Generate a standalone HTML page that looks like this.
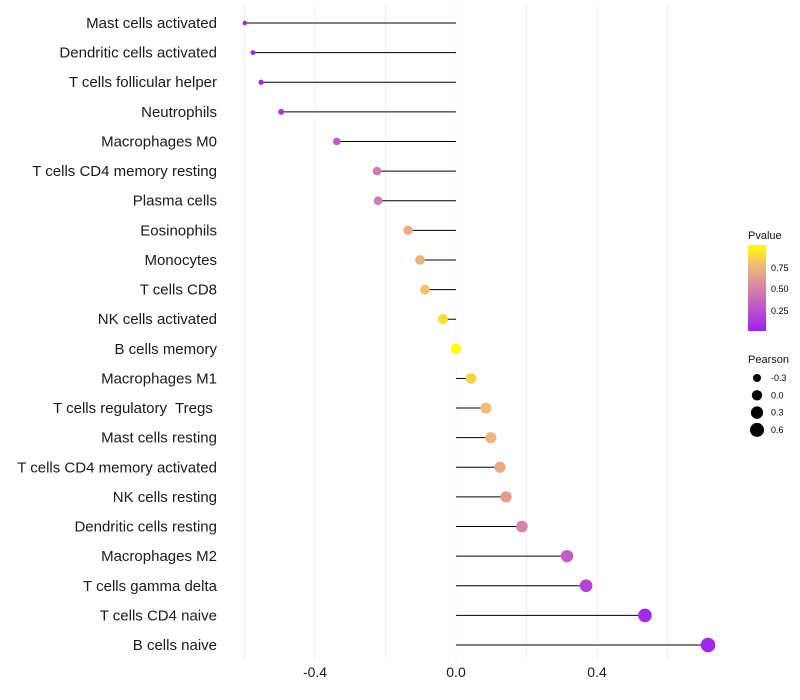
<!DOCTYPE html>
<html><head><meta charset="utf-8"><style>
body{margin:0;background:#fff;font-family:"Liberation Sans",sans-serif;}
</style></head><body>
<svg id="chart" width="800" height="700" xmlns="http://www.w3.org/2000/svg" style="display:block">
<defs><linearGradient id="pg" x1="0" y1="1" x2="0" y2="0">
<stop offset="0" stop-color="#a020f0"/><stop offset="0.5" stop-color="#d684a8"/><stop offset="0.75" stop-color="#f0b878"/><stop offset="1" stop-color="#ffff00"/>
</linearGradient></defs>
<g id="grid"></g>
<g id="marks"></g>
<g id="labels"></g>
<g id="xt"></g>
<g>
<text x="748" y="239" font-size="11" fill="#111">Pvalue</text>
<rect x="748" y="245" width="18" height="86" fill="url(#pg)"/>
<text x="771" y="271" font-size="9">0.75</text>
<text x="771" y="292" font-size="9">0.50</text>
<text x="771" y="314" font-size="9">0.25</text>
</g>
<g id="sleg">
<text x="748" y="363" font-size="11" fill="#111">Pearson</text>
</g>
</svg>
<script>
const categories=["Mast cells activated","Dendritic cells activated","T cells follicular helper","Neutrophils","Macrophages M0","T cells CD4 memory resting","Plasma cells","Eosinophils","Monocytes","T cells CD8","NK cells activated","B cells memory","Macrophages M1","T cells regulatory\u00a0 Tregs\u00a0","Mast cells resting","T cells CD4 memory activated","NK cells resting","Dendritic cells resting","Macrophages M2","T cells gamma delta","T cells CD4 naive","B cells naive"];
const pearson=[-0.599,-0.576,-0.553,-0.496,-0.338,-0.224,-0.221,-0.136,-0.102,-0.088,-0.037,0.0,0.043,0.085,0.099,0.125,0.142,0.187,0.315,0.369,0.536,0.715];
const pvalues=[0.0,0.03,0.04,0.08,0.3,0.45,0.45,0.7,0.72,0.78,0.88,1.0,0.85,0.76,0.73,0.68,0.62,0.5,0.3,0.18,0.05,0.03];
const xTicks=[-0.4,0.0,0.4];
const xTickLabels=["-0.4","0.0","0.4"];
const gridVals=[-0.6,-0.4,-0.2,0,0.2,0.4,0.6];
const legendVals=[-0.3,0.0,0.3,0.6];
const legendLabels=["-0.3","0.0","0.3","0.6"];
const NS="http://www.w3.org/2000/svg";
const X=v=>456+v*352.5;
const Y=i=>23+i*29.62;
const R=v=>Math.sqrt(Math.max(2,27+36.7*v));
function lerp(a,b,t){return a.map((x,i)=>Math.round(x+(b[i]-x)*t));}
function col(p){const s=[[0,[160,32,240]],[0.5,[214,132,168]],[0.75,[240,184,120]],[1,[255,255,0]]];
for(let i=1;i<s.length;i++){if(p<=s[i][0]){const t=(p-s[i-1][0])/(s[i][0]-s[i-1][0]);const c=lerp(s[i-1][1],s[i][1],t);return `rgb(${c})`;}}return "rgb(255,255,0)";}
function mk(t,a,parent){const e=document.createElementNS(NS,t);for(const k in a)e.setAttribute(k,a[k]);parent.appendChild(e);return e;}
const grid=document.getElementById('grid'),marks=document.getElementById('marks'),labels=document.getElementById('labels'),xt=document.getElementById('xt'),sleg=document.getElementById('sleg');
gridVals.forEach(v=>{const l=mk('line',{x1:X(v),x2:X(v),y1:5,y2:660,stroke:'#f0f0f0','stroke-width':1},grid);

});
categories.forEach((c,i)=>{
const t=mk('text',{x:217,y:Y(i)+5,'text-anchor':'end','font-size':15,fill:'#1a1a1a'},labels);t.textContent=c;


const l=mk('line',{x1:X(0),x2:X(pearson[i]),y1:Y(i),y2:Y(i),stroke:'#000','stroke-width':1},marks);


const p=mk('circle',{cx:X(pearson[i]),cy:Y(i),r:R(pearson[i]),fill:col(pvalues[i])},marks);


});
xTicks.forEach((v,i)=>{const t=mk('text',{x:X(v),y:677,'text-anchor':'middle','font-size':14,fill:'#1a1a1a'},xt);t.textContent=xTickLabels[i];

});
legendVals.forEach((v,i)=>{const y=378+i*17.3;
const c=mk('circle',{cx:757,cy:y,r:R(v),fill:'#000'},sleg);


const t=mk('text',{x:771,y:y+3,'font-size':9},sleg);t.textContent=legendLabels[i];

});
</script>
</body></html>
